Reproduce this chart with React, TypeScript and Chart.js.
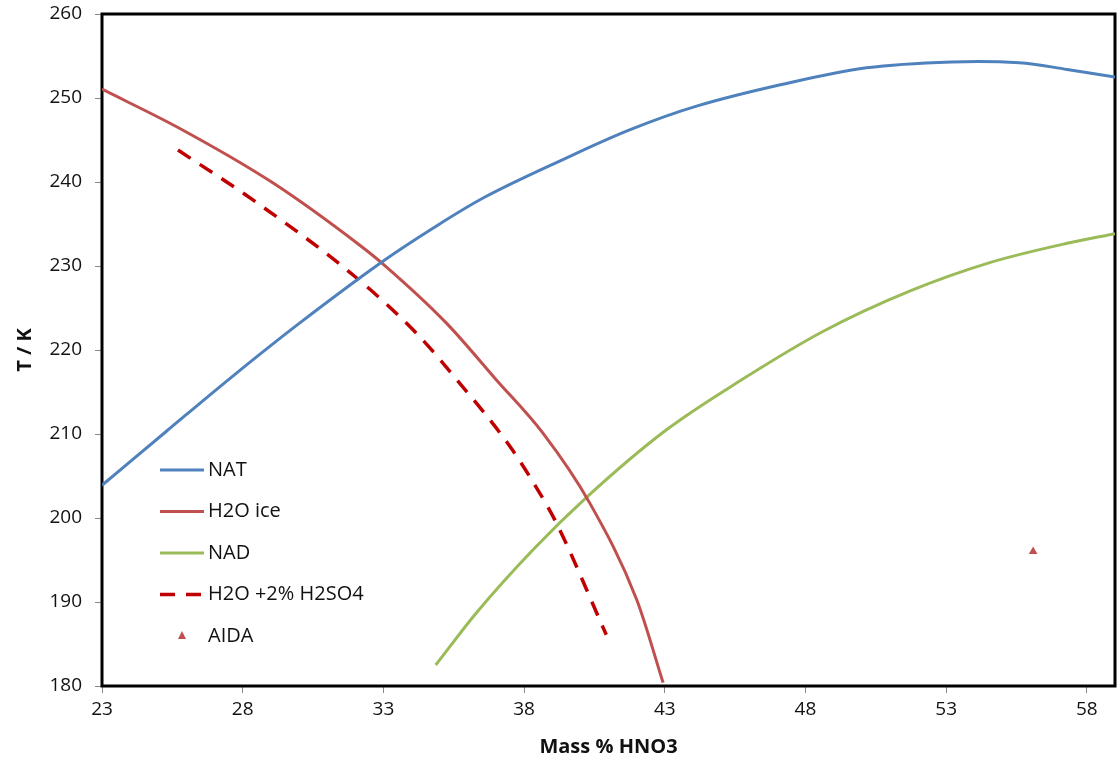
import React, { useEffect, useRef } from "react";
import { Chart, registerables } from "chart.js";

Chart.register(...registerables);

// ---- data ----
const natX = [23, 25.28, 27.65, 30.02, 32.87, 34.76, 36.66, 39.4, 41.75, 44.1, 47.15, 50.17, 53.2, 55.6, 57.3, 59];
const natY = [203.9, 210.3, 216.9, 223.2, 230.3, 234.5, 238.3, 242.7, 246.2, 249.0, 251.6, 253.6, 254.3, 254.2, 253.4, 252.5];

const iceX = [23, 25.75, 29.07, 32.15, 33.0, 35.24, 37.0, 38.67, 40.33, 42.0, 42.94];
const iceY = [251.05, 246.4, 239.9, 232.5, 230.2, 223.2, 216.5, 210.1, 201.8, 190.3, 180.4];

const nadX = [34.86, 36.3, 38.31, 40.2, 43.06, 45.66, 48.62, 51.7, 54.55, 57.3, 59];
const nadY = [182.5, 188.7, 196.2, 202.4, 210.5, 216.3, 222.2, 227.0, 230.4, 232.7, 233.85];

const sulfX = [25.7, 28.35, 32.04, 34.17, 35.6, 37.5, 38.55, 39.15, 40.92];
const sulfY = [243.8, 237.9, 228.6, 222.0, 216.5, 208.5, 203.0, 199.4, 186.1];

const aidaX = [56.09];
const aidaY = [196.0];

const seriesLabels = ["NAT", "H2O ice", "NAD", "H2O +2% H2SO4", "AIDA"];
const xTicks = [23, 28, 33, 38, 43, 48, 53, 58];
const yTicks = [180, 190, 200, 210, 220, 230, 240, 250, 260];
const xTitle = "Mass % HNO3";
const yTitle = "T / K";

const FONT = "'Open Sans', 'DejaVu Sans', sans-serif";

const pts = (xs: number[], ys: number[]) => xs.map((x, i) => ({ x, y: ys[i] }));

const framePlugin = {
  id: "frame",
  beforeDatasetsDraw(chart: any) {
    const { ctx, chartArea } = chart;
    ctx.save();
    ctx.strokeStyle = "#000";
    ctx.lineWidth = 3;
    ctx.strokeRect(chartArea.left, chartArea.top, chartArea.right - chartArea.left, chartArea.bottom - chartArea.top);
    ctx.restore();
  },
};

const legendPlugin = {
  id: "insideLegend",
  afterDraw(chart: any) {
    const { ctx, chartArea } = chart;
    const x0 = chartArea.left + 58;
    const y0 = chartArea.top + 456;
    const step = 41.5;
    ctx.save();
    ctx.font = `20px ${FONT}`;
    ctx.textBaseline = "middle";
    ctx.textAlign = "left";
    chart.data.datasets.forEach((ds: any, i: number) => {
      const y = y0 + i * step;
      if (ds.showLine) {
        ctx.beginPath();
        ctx.strokeStyle = ds.borderColor;
        ctx.lineWidth = ds.borderWidth;
        ctx.setLineDash(ds.borderDash || []);
        ctx.moveTo(x0, y);
        ctx.lineTo(x0 + 44, y);
        ctx.stroke();
        ctx.setLineDash([]);
      } else {
        const cx = x0 + 22;
        const s = 8;
        ctx.beginPath();
        ctx.fillStyle = ds.backgroundColor;
        ctx.moveTo(cx, y - s / 2 - 1);
        ctx.lineTo(cx + s / 2, y + s / 2 - 1);
        ctx.lineTo(cx - s / 2, y + s / 2 - 1);
        ctx.closePath();
        ctx.fill();
      }
      ctx.fillStyle = "#111";
      ctx.fillText(ds.label, x0 + 48, y);
    });
    ctx.restore();
  },
};

const zeroPad = (s: any) => {
  s.paddingTop = 0;
  s.paddingBottom = 0;
  s.paddingLeft = 0;
  s.paddingRight = 0;
};

export default function App() {
  const ref = useRef<HTMLCanvasElement>(null);

  useEffect(() => {
    document.body.style.margin = "0";
    if (!ref.current) return;
    const lineDs = (
      label: string,
      xs: number[],
      ys: number[],
      color: string,
      width: number,
      dash?: number[],
      smooth?: boolean
    ) => ({
      label,
      data: pts(xs, ys),
      showLine: true,
      borderColor: color,
      backgroundColor: color,
      borderWidth: width,
      borderDash: dash || [],
      pointRadius: 0,
      pointHoverRadius: 0,
      cubicInterpolationMode: smooth ? ("default" as const) : ("monotone" as const),
      tension: smooth ? 0.35 : 0,
      fill: false,
    });

    const chart = new Chart(ref.current, {
      type: "scatter",
      data: {
        datasets: [
          lineDs(seriesLabels[0], natX, natY, "#4F81BD", 3, undefined, true),
          lineDs(seriesLabels[1], iceX, iceY, "#C0504D", 3),
          lineDs(seriesLabels[2], nadX, nadY, "#9BBB59", 3),
          lineDs(seriesLabels[3], sulfX, sulfY, "#C00000", 3.5, [15, 11]),
          {
            label: seriesLabels[4],
            data: pts(aidaX, aidaY),
            showLine: false,
            pointStyle: "triangle",
            pointRadius: 5,
            backgroundColor: "#C0504D",
            borderColor: "#C0504D",
            borderWidth: 0,
          } as any,
        ],
      },
      options: {
        responsive: false,
        animation: false,
        devicePixelRatio: 1,
        layout: { padding: { top: 14, right: 3, left: 0, bottom: 0 } },
        plugins: {
          legend: { display: false },
          tooltip: { enabled: false },
        },
        scales: {
          x: {
            type: "linear",
            min: 23,
            max: 59,
            afterBuildTicks: (s: any) => {
              s.ticks = xTicks.map((v) => ({ value: v }));
            },
            afterFit: (s: any) => {
              s.height = 77;
              zeroPad(s);
            },
            grid: { drawOnChartArea: false, drawTicks: true, tickLength: 7, color: "#888" },
            border: { display: false },
            ticks: { font: { family: FONT, size: 19 }, color: "#111", padding: 5, maxRotation: 0, autoSkip: false },
            title: {
              display: true,
              text: xTitle,
              font: { family: FONT, size: 20, weight: "bold" },
              color: "#111",
              padding: { top: 0, bottom: 4 },
            },
          },
          y: {
            type: "linear",
            min: 180,
            max: 260,
            afterBuildTicks: (s: any) => {
              s.ticks = yTicks.map((v) => ({ value: v }));
            },
            afterFit: (s: any) => {
              s.width = 102;
              zeroPad(s);
            },
            grid: { drawOnChartArea: false, drawTicks: true, tickLength: 7, color: "#888" },
            border: { display: false },
            ticks: { font: { family: FONT, size: 19 }, color: "#111", padding: 13, autoSkip: false },
            title: {
              display: true,
              text: yTitle,
              font: { family: FONT, size: 20, weight: "bold" },
              color: "#111",
              padding: { top: 13, bottom: 0 },
            },
          },
        },
      },
      plugins: [framePlugin, legendPlugin],
    });
    return () => chart.destroy();
  }, []);

  return (
    <div style={{ width: 1120, height: 763, background: "#fff" }}>
      <canvas ref={ref} width={1120} height={763} style={{ display: "block" }} />
    </div>
  );
}
